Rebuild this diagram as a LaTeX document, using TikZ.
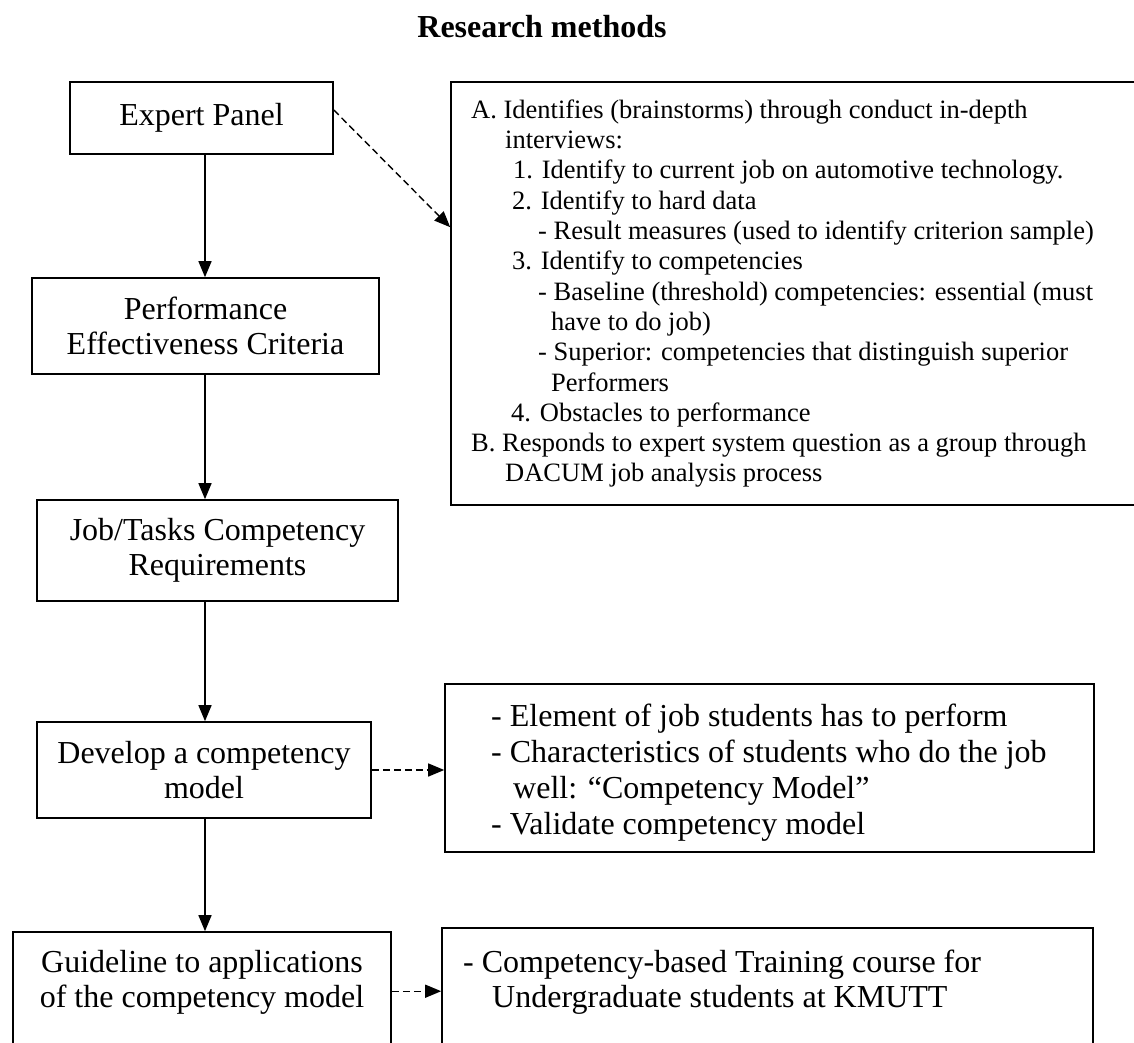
\documentclass[tikz,border=0pt]{standalone}
\usepackage{fontspec}
\setmainfont{Liberation Serif}
\usetikzlibrary{arrows.meta,calc}
\begin{document}
\begin{tikzpicture}[x=1pt,y=-1pt,
  box/.style={draw,line width=1.6pt,inner sep=0pt,align=center,font=\fontsize{32}{35}\selectfont},
  txtA/.style={anchor=base west,inner sep=0pt,font=\fontsize{26.5}{30}\selectfont},
  txtB/.style={anchor=base west,inner sep=0pt,font=\fontsize{32}{35}\selectfont},
  txtC/.style={anchor=base,inner sep=0pt,font=\fontsize{32}{35}\selectfont},
  flow/.style={line width=1.4pt,-{Triangle[length=16pt,width=13pt]}},
  dflow/.style={flow,dash pattern=on 7pt off 4pt},
]
\clip (0,0) rectangle (1134,1043);
\fill[white] (0,0) rectangle (1134,1043);

\node[inner sep=0pt,anchor=base,font=\fontsize{32}{35}\selectfont\bfseries] (title) at (542,38) {Research methods};

\node[box,minimum width=263pt,minimum height=72pt] (ep) at (201.5,118) {Expert Panel};
\node[box,minimum width=347pt,minimum height=96pt] (perf) at (205.5,326) {Performance\\Effectiveness Criteria};
\node[box,minimum width=361pt,minimum height=101pt] (job) at (217.5,550.5) {Job/Tasks Competency\\Requirements};
\node[box,minimum width=334pt,minimum height=96pt] (dev) at (204,770) {Develop a competency\\model};
\node[box,minimum width=378pt,minimum height=168pt] (gl) at (202,1016) {};
\node[txtC] (gl1) at (202,972) {Guideline to applications};
\node[txtC] (gl2) at (202,1007) {of the competency model};

\node[box,minimum width=749pt,minimum height=423pt] (boxA) at (825.5,293.5) {};
\foreach \xx/\lt [count=\i from 0] in {
  471/{A. Identifies (brainstorms) through conduct in-depth},
  505/{interviews:},
  513/{1. Identify to current job on automotive technology.},
  512/{2. Identify to hard data},
  538/{- Result measures (used to identify criterion sample)},
  512/{3. Identify to competencies},
  538/{- Baseline (threshold) competencies: essential (must},
  551/{have to do job)},
  538/{- Superior: competencies that distinguish superior},
  551/{Performers},
  511/{4. Obstacles to performance},
  471/{B. Responds to expert system question as a group through},
  505/{DACUM job analysis process}}
  \node[txtA,name=a\i] at (\xx,{118.3+30.3*\i}) {\lt};

\node[box,minimum width=649pt,minimum height=168pt] (rb2) at (769.5,768) {};
\node[txtB] (r21) at (491,726) {- Element of job students has to perform};
\node[txtB] (r22) at (491,762) {- Characteristics of students who do the job};
\node[txtB] (r23) at (513,798) {well: “Competency Model”};
\node[txtB] (r24) at (491,834) {- Validate competency model};

\node[box,minimum width=651pt,minimum height=172pt] (rb3) at (767.5,1014) {};
\node[txtB] (r31) at (463,972) {- Competency-based Training course for};
\node[txtB] (r32) at (492,1007) {Undergraduate students at KMUTT};

\coordinate (ax) at (205,0);
\draw[flow] (ep.south -| ax) -- (perf.north -| ax);
\draw[flow] (perf.south -| ax) -- (job.north -| ax);
\draw[flow] (job.south -| ax) -- (dev.north -| ax);
\draw[flow] (dev.south -| ax) -- (gl.north -| ax);

\coordinate (d1s) at ($(ep.east)+(0,-8)$);
\coordinate (d1e) at ($(boxA.north west)+(0,146)$);
\draw[dflow] (d1s) -- (d1e);
\draw[dflow] (dev.east) -- (dev.east -| rb2.west);
\coordinate (g3) at ($(gl.north east)+(0,60)$);
\draw[dflow] (g3) -- (g3 -| rb3.west);
\end{tikzpicture}
\end{document}
